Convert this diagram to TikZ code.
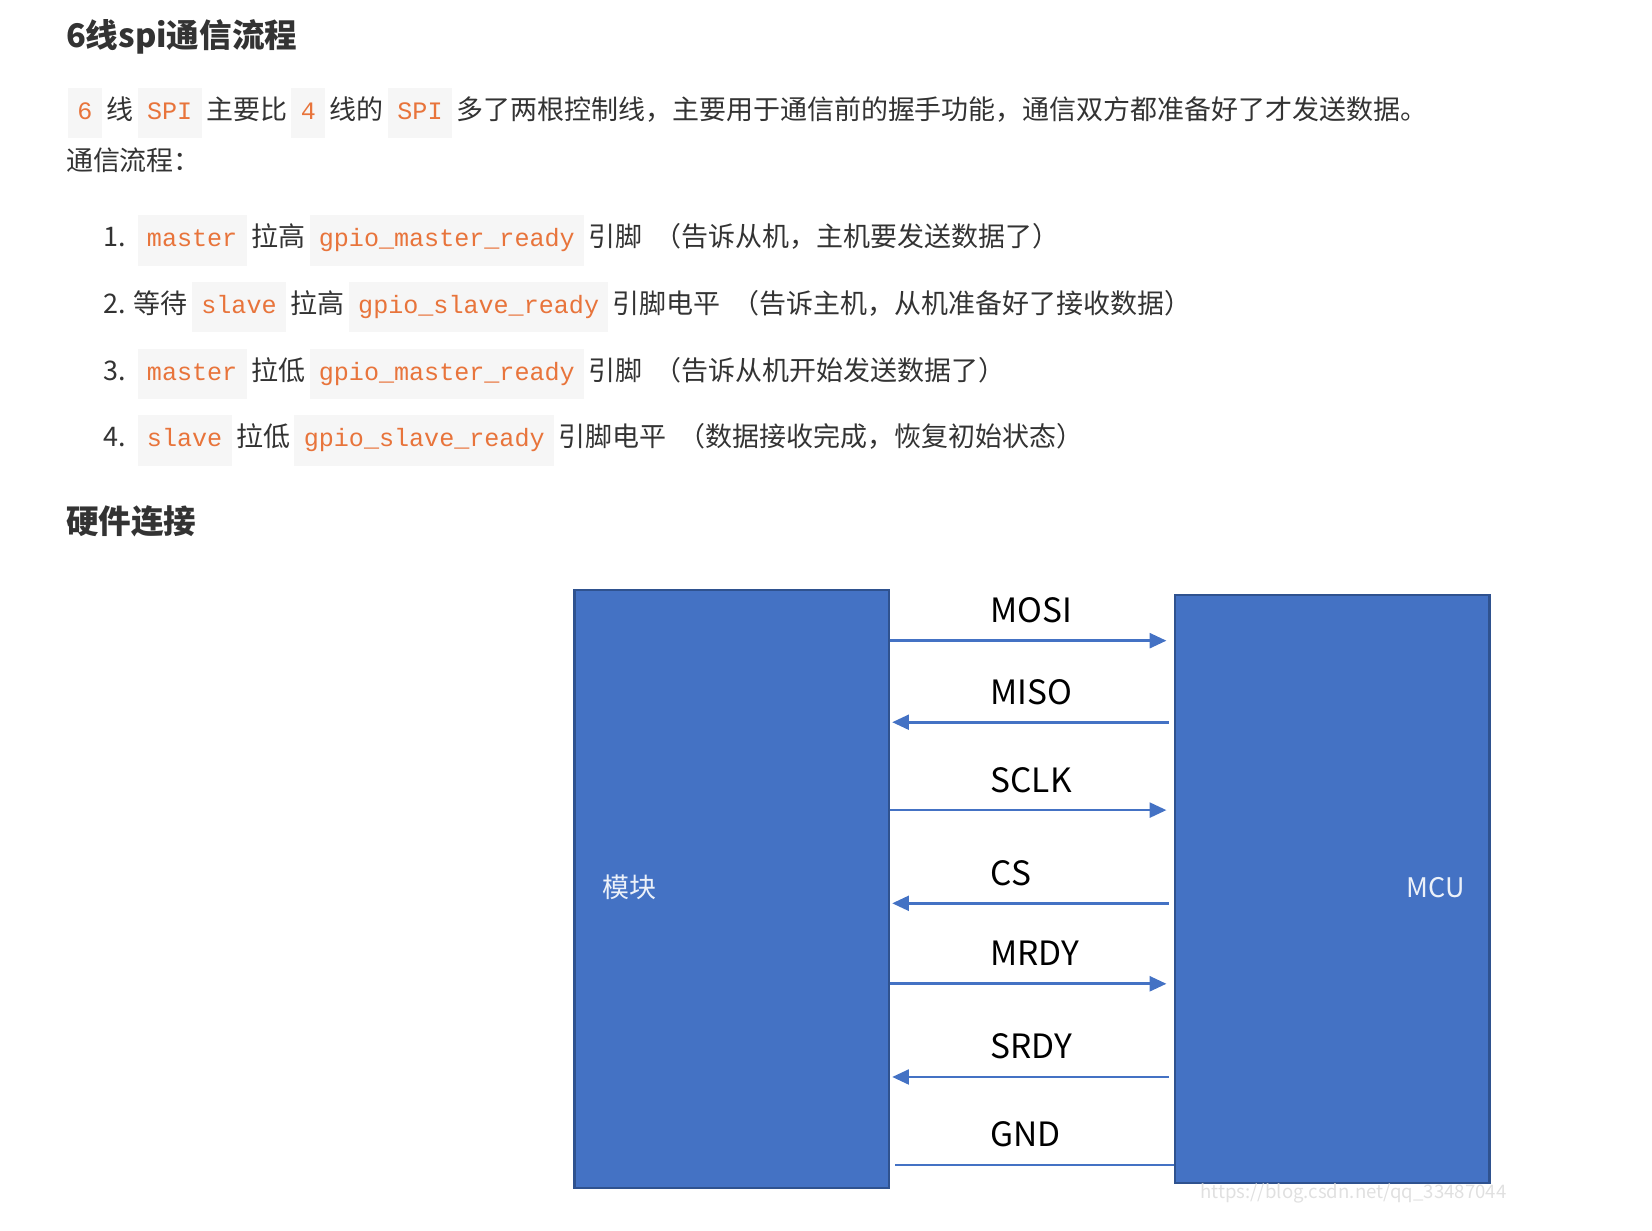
\documentclass[tikz,border=0pt]{standalone}
\usepackage{fontspec}
\setmainfont{Noto Sans CJK SC}
\setsansfont{Noto Sans CJK SC}
\setmonofont[Scale=0.93]{Liberation Mono}
\usetikzlibrary{arrows.meta, positioning}
\definecolor{boxblue}{HTML}{4472C4}
\definecolor{boxedge}{HTML}{2F528F}
\definecolor{codefg}{HTML}{E8743B}
\definecolor{codebg}{HTML}{F6F6F6}
\definecolor{txt}{HTML}{333333}
\newcommand{\chip}[1]{{\setlength\fboxsep{5pt}\colorbox{codebg}{\color{codefg}\ttfamily\strut #1}}}
\tikzset{
  blk/.style = {draw=boxedge, line width=1.2pt, fill=boxblue, inner sep=0pt},
  sig/.style = {boxblue, line width=1.4pt},
  line/.style = {anchor=base west, inner sep=0pt, text=txt, font=\fontsize{14.5}{17}\selectfont},
  head/.style = {anchor=base west, inner sep=0pt, text=txt, font=\fontsize{17.5}{20}\selectfont\bfseries},
  lab/.style = {anchor=base west, inner sep=0pt, font=\fontsize{18}{21}\selectfont}
}
\begin{document}
\begin{tikzpicture}[x=0.02cm, y=-0.02cm]
\useasboundingbox (0,0) rectangle (1560,1162);
% text part
\node[head] (t1) at (62,45) {6线spi通信流程};
\node[line] (p1) at (64,113) {\chip{6}\,线\,\chip{SPI}\,主要比\,\chip{4}\,线的\,\chip{SPI}\,多了两根控制线，主要用于通信前的握手功能，通信双方都准备好了才发送数据。};
\node[line] (p2) at (62,161) {通信流程：};
\node[line] (s1) at (97,233) {1.\ \ \chip{master}\,拉高\,\chip{gpio\_master\_ready}\,引脚\ \ （告诉从机，主机要发送数据了）};
\node[line] (s2) at (97,296) {2. 等待\,\chip{slave}\,拉高\,\chip{gpio\_slave\_ready}\,引脚电平\ \ （告诉主机，从机准备好了接收数据）};
\node[line] (s3) at (97,359) {3.\ \ \chip{master}\,拉低\,\chip{gpio\_master\_ready}\,引脚\ \ （告诉从机开始发送数据了）};
\node[line] (s4) at (97,422) {4.\ \ \chip{slave}\,拉低\,\chip{gpio\_slave\_ready}\,引脚电平\ \ （数据接收完成，恢复初始状态）};
\node[head] (t2) at (62,504) {硬件连接};
% boxes
\node[blk, minimum width=5.94cm, minimum height=11.3cm] (mod) at (691,839.5) {};
\node[blk, minimum width=5.94cm, minimum height=11.1cm] (mcu) at (1258,839.5) {};
\node[text=white!90!boxblue, font=\fontsize{14.5}{17}\selectfont, anchor=west] (modl) at (563,838) {模块};
\node[text=white!90!boxblue, font=\fontsize{14.5}{17}\selectfont, anchor=west] (mcul) at (1322,838) {MCU};
% signals
\foreach \nm/\yy/\dir in {MOSI/605/1, MISO/682/0, SCLK/765/1, CS/853/0, MRDY/929/1, SRDY/1017/0}{
  \ifnum\dir=1
    \draw[sig, -{Triangle[length=9pt,width=8pt]}] (mod.east |- 0,\yy) -- ([xshift=-0.14cm]mcu.west |- 0,\yy);
  \else
    \draw[sig, -{Triangle[length=9pt,width=8pt]}] ([xshift=-0.1cm]mcu.west |- 0,\yy) -- ([xshift=0.04cm]mod.east |- 0,\yy);
  \fi
  \node[lab] (l\nm) at (935,\yy-17) {\nm};
}
\draw[sig] ([xshift=0.1cm]mod.east |- 0,1100) -- (mcu.west |- 0,1100);
\node[lab] (lGND) at (935,1083) {GND};
\node[text=black!12, font=\fontsize{10}{12}\selectfont] (wm) at (1278,1127) {https://blog.csdn.net/qq\_33487044};
\end{tikzpicture}
\end{document}
